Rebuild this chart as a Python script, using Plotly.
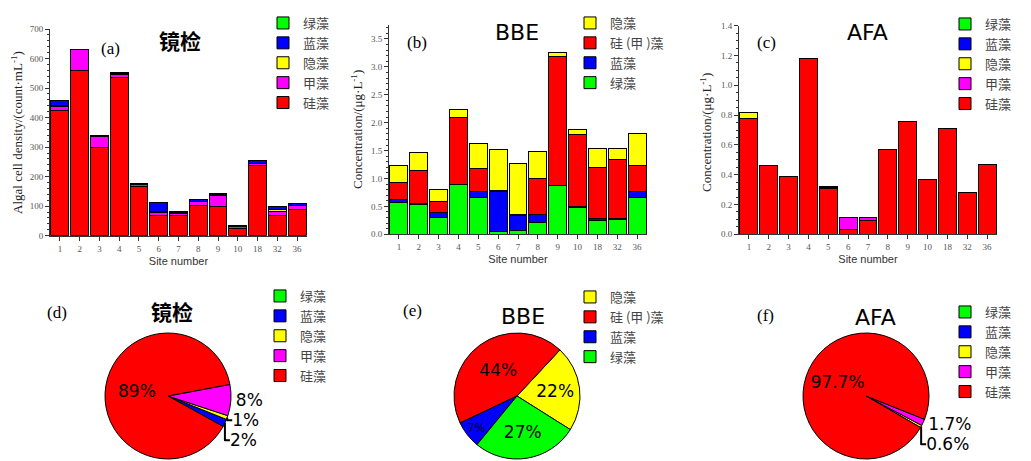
import plotly.graph_objects as go

# page body has an 8px margin, so the figure is sized to fill the 1031x461 window from (8, 8)
OFF = 8
W, H = 1031 - OFF, 461 - OFF


def X(px):
    return (px - OFF) / W


def Y(py):
    return 1 - (py - OFF) / H


sites = ["1", "2", "3", "4", "5", "6", "7", "8", "9", "10", "18", "32", "36"]

# (a) microscopy, cells per mL (stack bottom -> top)
a_gui = [423, 560, 300, 537, 166, 70, 70, 103, 100, 25, 237, 70, 90]
a_jia = [15, 70, 35, 10, 7, 8, 6, 12, 35, 5, 7, 13, 12]
a_yin = [2, 0, 1, 1, 1, 3, 1, 1, 3, 0, 2, 5, 1]
a_lan = [18, 0, 4, 4, 4, 30, 6, 6, 2, 5, 8, 10, 5]
a_lv = [0, 0, 0, 0, 0, 0, 0, 0, 2, 0, 0, 0, 0]

# (b) BBE, ug/L (stack bottom -> top)
b_lv = [0.57, 0.54, 0.30, 0.90, 0.66, 0.05, 0.06, 0.22, 0.87, 0.48, 0.25, 0.27, 0.66]
b_lan = [0.06, 0.01, 0.09, 0.0, 0.10, 0.72, 0.28, 0.13, 0.0, 0.01, 0.03, 0.01, 0.11]
b_gui = [0.29, 0.60, 0.20, 1.20, 0.42, 0.01, 0.01, 0.65, 2.32, 1.30, 0.92, 1.06, 0.47]
b_yin = [0.31, 0.31, 0.22, 0.14, 0.45, 0.74, 0.92, 0.48, 0.06, 0.09, 0.34, 0.19, 0.56]

# (c) AFA, ug/L (stack bottom -> top)
c_gui = [0.78, 0.46, 0.39, 1.18, 0.31, 0.03, 0.09, 0.57, 0.76, 0.37, 0.71, 0.28, 0.47]
c_jia = [0, 0, 0, 0, 0.005, 0.08, 0.02, 0, 0, 0, 0, 0, 0]
c_yin = [0.04, 0, 0, 0, 0, 0, 0, 0, 0, 0, 0, 0, 0]
c_lan = [0, 0, 0, 0, 0.005, 0, 0, 0, 0, 0, 0, 0, 0]
c_lv = [0, 0, 0, 0, 0, 0, 0, 0, 0, 0, 0, 0, 0]

# pies, percent
d_labels = ["绿藻", "蓝藻", "隐藻", "甲藻", "硅藻"]
d_pct = [0, 2, 1, 8, 89]
e_labels = ["隐藻", "硅 (甲 )藻", "蓝藻", "绿藻"]
e_pct = [22, 44, 7, 27]
f_labels = ["绿藻", "蓝藻", "隐藻", "甲藻", "硅藻"]
f_pct = [0, 0, 0.6, 1.7, 97.7]

COL = {"绿藻": "#00FF00", "蓝藻": "#0000FF", "隐藻": "#FFFF00",
       "甲藻": "#FF00FF", "硅藻": "#FF0000", "硅 (甲 )藻": "#FF0000"}

SERIF = "Liberation Serif"
SANS = "Liberation Sans"
CJK = "Noto Sans CJK SC"

fig = go.Figure()


def add_bars(series, xa, ya, leg):
    for name, vals in series:
        fig.add_trace(go.Bar(
            x=sites, y=vals, name=name, xaxis=xa, yaxis=ya, legend=leg,
            marker=dict(color=COL[name], line=dict(color="#000000", width=1)),
            hoverinfo="y+name",
        ))


add_bars([("硅藻", a_gui), ("甲藻", a_jia), ("隐藻", a_yin), ("蓝藻", a_lan), ("绿藻", a_lv)],
         "x", "y", "legend")
add_bars([("绿藻", b_lv), ("蓝藻", b_lan), ("硅 (甲 )藻", b_gui), ("隐藻", b_yin)],
         "x2", "y2", "legend2")
add_bars([("硅藻", c_gui), ("甲藻", c_jia), ("隐藻", c_yin), ("蓝藻", c_lan), ("绿藻", c_lv)],
         "x3", "y3", "legend3")


def add_pie(labels, pct, cx, leg, rot, fmt, inside_min, uid):
    r = 150
    # zero-width spaces keep each pie's labels distinct so every pie keeps its own legend
    lab = [l + "\u200b" * uid for l in labels]
    fig.add_trace(go.Pie(
        labels=lab, values=pct, sort=False, direction="counterclockwise",
        rotation=rot, legend=leg,
        domain=dict(x=[X(cx - r), X(cx + r)], y=[Y(459), Y(333)]),
        marker=dict(colors=[COL[l] for l in labels], line=dict(color="#000000", width=1)),
        texttemplate="%{percent:" + fmt + "}",
        textposition=[("inside" if v >= inside_min else "outside") if v > 0 else "none" for v in pct],
        insidetextorientation="horizontal",
        textfont=dict(family="DejaVu Sans", size=17, color="#000000"),
        hoverinfo="label+percent",
    ))


add_pie(d_labels, d_pct, 168, "legend4", 119, ".0%", 20, 1)
add_pie(e_labels, e_pct, 517, "legend5", 43, ".0%", 0, 2)
add_pie(f_labels, f_pct, 866, "legend6", 120, ".1%", 20, 3)

tickfont = dict(family=SERIF, size=9, color="#555555")
xax = dict(type="category", showline=True, linecolor="#333333", linewidth=1,
           ticks="outside", ticklen=4, tickcolor="#333333", tickfont=tickfont,
           showgrid=False, zeroline=False, automargin=False,
           title=dict(text="Site number", font=dict(family=SANS, size=11, color="#333333"), standoff=4))
yax = dict(showline=True, linecolor="#333333", linewidth=1, ticks="outside", ticklen=4,
           tickcolor="#333333", tickfont=tickfont, showgrid=False, zeroline=False, automargin=False,
           minor=dict(ticks="outside", ticklen=2, tickcolor="#333333"))

fig.update_layout(
    width=W, height=H, margin=dict(l=0, r=0, t=0, b=0, autoexpand=False),
    paper_bgcolor="white", plot_bgcolor="white",
    barmode="stack", bargap=0.1, showlegend=True,
    xaxis=dict(xax, domain=[X(50), X(307)], anchor="y"),
    xaxis2=dict(xax, domain=[X(389), X(647)], anchor="y2"),
    xaxis3=dict(xax, domain=[X(739), X(997)], anchor="y3"),
    yaxis=dict(yax, domain=[Y(235.7), Y(29)], anchor="x", range=[0, 700], dtick=100),
    yaxis2=dict(yax, domain=[Y(234.3), Y(25)], anchor="x2", range=[0, 3.75], dtick=0.5,
                tickformat=".1f"),
    yaxis3=dict(yax, domain=[Y(234.3), Y(25.7)], anchor="x3", range=[0, 1.4], dtick=0.2,
                tickformat=".1f"),
)

legfont = dict(family=CJK, size=13, color="#444444")
for key, lx, ly, order in [("legend", 263, 2, "reversed"), ("legend2", 570, 1, "reversed"),
                           ("legend3", 945, 9, "reversed"), ("legend4", 260, 281, "normal"),
                           ("legend5", 570, 282, "normal"), ("legend6", 945, 297, "normal")]:
    fig.update_layout({key: dict(x=X(lx), y=Y(ly), xref="container", yref="container",
                                 xanchor="left", yanchor="top",
                                 bgcolor="rgba(0,0,0,0)", borderwidth=0, font=legfont,
                                 traceorder=order, tracegroupgap=0, itemwidth=30,
                                 itemclick=False, itemdoubleclick=False)})

ann = []


def txt(s, x, y, size, family, bold=False, color="#000000", angle=0):
    ann.append(dict(text=("<b>%s</b>" % s) if bold else s, x=X(x), y=Y(y),
                    xref="paper", yref="paper", showarrow=False, textangle=angle,
                    font=dict(family=family, size=size, color=color),
                    xanchor="center", yanchor="middle"))


txt("镜检", 180, 40, 21, CJK, bold=True)
txt("(a)", 110, 48, 17, SERIF)
txt("BBE", 517, 33, 22, "DejaVu Sans")
txt("(b)", 417, 43, 17, SERIF)
txt("AFA", 867, 33, 22, "DejaVu Sans")
txt("(c)", 766, 43, 17, SERIF)
txt("镜检", 172, 311, 21, CJK, bold=True)
txt("(d)", 57, 312, 17, SERIF)
txt("BBE", 523, 316, 22, "DejaVu Sans")
txt("(e)", 412, 310, 17, SERIF)
txt("AFA", 875, 317, 22, "DejaVu Sans")
txt("(f)", 765, 315, 17, SERIF)
txt("Algal cell density/(count·mL<sup>-1</sup>)", 17, 133, 13, SERIF, color="#222222", angle=-90)
txt("Concentration/(μg·L<sup>-1</sup>)", 357, 130, 13, SERIF, color="#222222", angle=-90)
txt("Concentration/(μg·L<sup>-1</sup>)", 706, 133, 13, SERIF, color="#222222", angle=-90)
fig.update_layout(annotations=ann)

fig.write_html("out.html")
